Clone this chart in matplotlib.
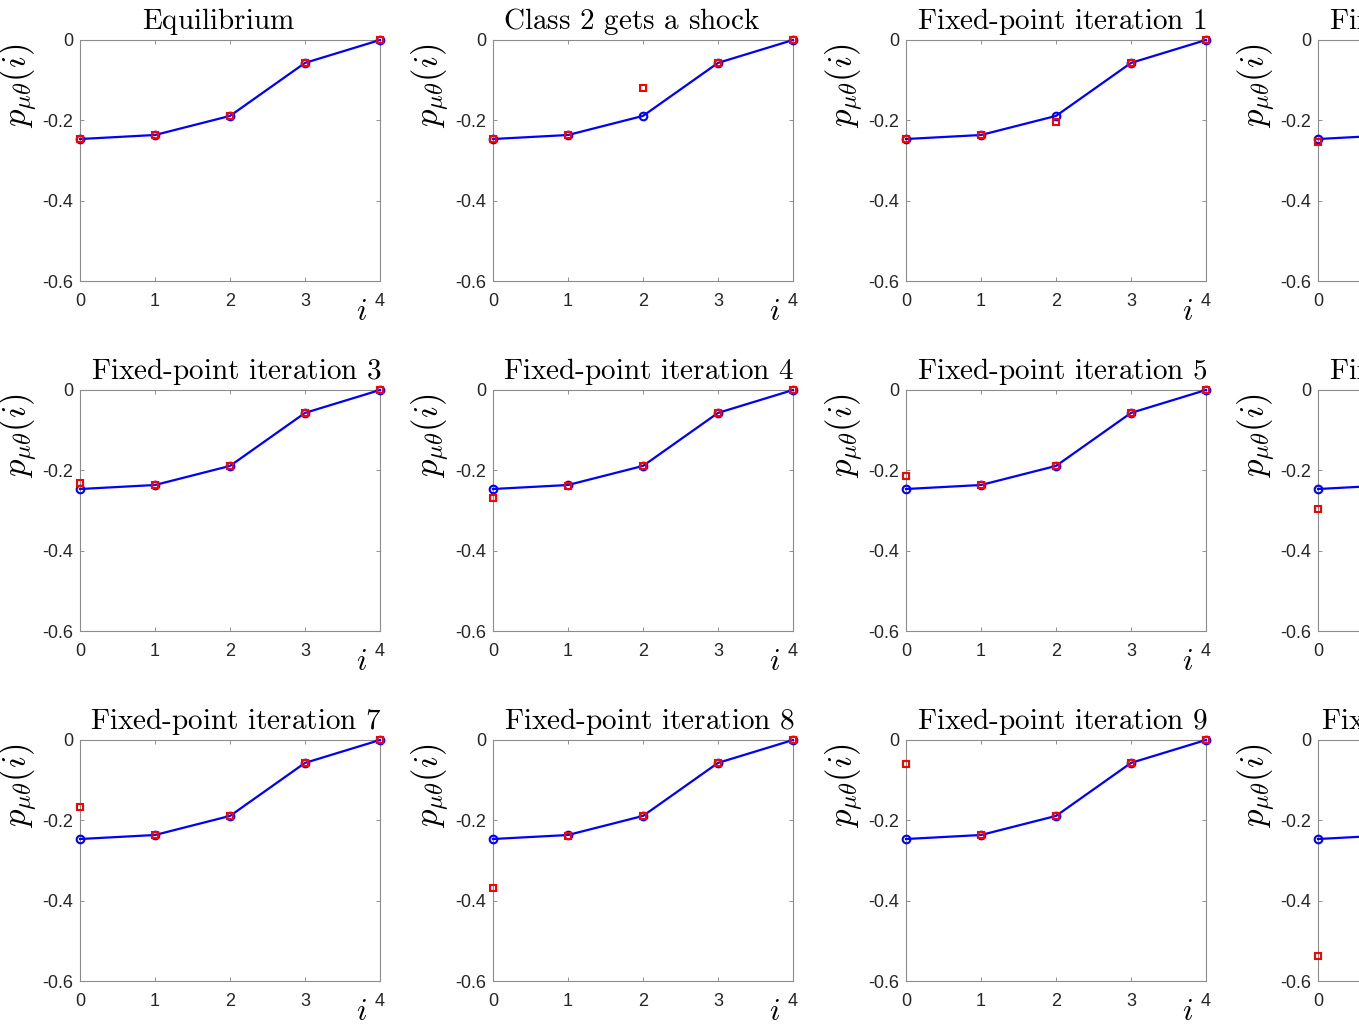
import matplotlib
matplotlib.use('Agg')
import matplotlib.pyplot as plt
import numpy as np

plt.rcParams['mathtext.fontset'] = 'cm'
plt.rcParams['font.family'] = ['Liberation Sans', 'DejaVu Sans']

# class index
classes = [0, 1, 2, 3, 4]

# equilibrium profile (blue line, same in every panel)
equilibrium = [-0.2465, -0.2365, -0.189, -0.057, 0.0]

titles = [
    'Equilibrium', 'Class 2 gets a shock',
    'Fixed-point iteration 1', 'Fixed-point iteration 2',
    'Fixed-point iteration 3', 'Fixed-point iteration 4',
    'Fixed-point iteration 5', 'Fixed-point iteration 6',
    'Fixed-point iteration 7', 'Fixed-point iteration 8',
    'Fixed-point iteration 9', 'Fixed-point iteration 10',
]

# red markers: current iterate in each panel
iterates = [
    [-0.2465, -0.2365, -0.189, -0.057, 0.0],
    [-0.2465, -0.2365, -0.1195, -0.057, 0.0],
    [-0.2465, -0.2365, -0.204, -0.057, 0.0],
    [-0.254, -0.2365, -0.189, -0.057, 0.0],
    [-0.2315, -0.2365, -0.189, -0.057, 0.0],
    [-0.268, -0.2395, -0.189, -0.057, 0.0],
    [-0.213, -0.2365, -0.189, -0.057, 0.0],
    [-0.296, -0.2365, -0.189, -0.057, 0.0],
    [-0.168, -0.2365, -0.189, -0.057, 0.0],
    [-0.368, -0.2395, -0.189, -0.057, 0.0],
    [-0.059, -0.2365, -0.189, -0.057, 0.0],
    [-0.538, -0.2365, -0.189, -0.057, 0.0],
]

yticks = [-0.6, -0.4, -0.2, 0]
ytick_labels = ['-0.6', '-0.4', '-0.2', '0']


def main():
    W, H = 1359, 1025
    fig = plt.figure(figsize=(W / 100, H / 100), dpi=100)

    col_left = [80, 493, 906, 1318]
    row_top = [40, 390, 740]
    aw, ah = 300, 241

    for k, (title, red) in enumerate(zip(titles, iterates)):
        r, c = divmod(k, 4)
        ax = fig.add_axes([col_left[c] / W, 1 - (row_top[r] + ah) / H, aw / W, ah / H])
        ax.plot(classes, equilibrium, '-o', color='#0000ff', lw=1.6,
                ms=5.5, mfc='none', mew=1.5, clip_on=False, zorder=3)
        ax.plot(classes, red, 's', color='#ff0000', ms=3.8, mfc='none',
                mew=1.5, clip_on=False, zorder=4)
        ax.set_xlim(0, 4)
        ax.set_ylim(-0.6, 0)
        ax.set_xticks(classes)
        ax.set_yticks(yticks)
        ax.set_yticklabels(ytick_labels)
        ax.tick_params(direction='in', length=3, width=0.6, colors='#808080',
                       labelcolor='#262626', labelsize=13, top=True, right=True,
                       pad=5)
        ax.tick_params(axis='x', pad=9)
        for s in ax.spines.values():
            s.set_color('#8c8c8c')
            s.set_linewidth(0.8)
        tx = 0.52 if title.startswith('Fixed') else 0.462
        ax.set_title(r'$\text{' + title + '}$', fontsize=21, pad=8, x=tx)
        ax.set_ylabel(r'$p_{\mu\theta}(i)$', fontsize=25)
        ax.yaxis.set_label_coords(-0.135, 0.81)
        ax.text(0.94, -0.13, r'$i$', transform=ax.transAxes, fontsize=22,
                ha='center', va='center')

    fig.savefig('out.png', dpi=100)


if __name__ == '__main__':
    main()
